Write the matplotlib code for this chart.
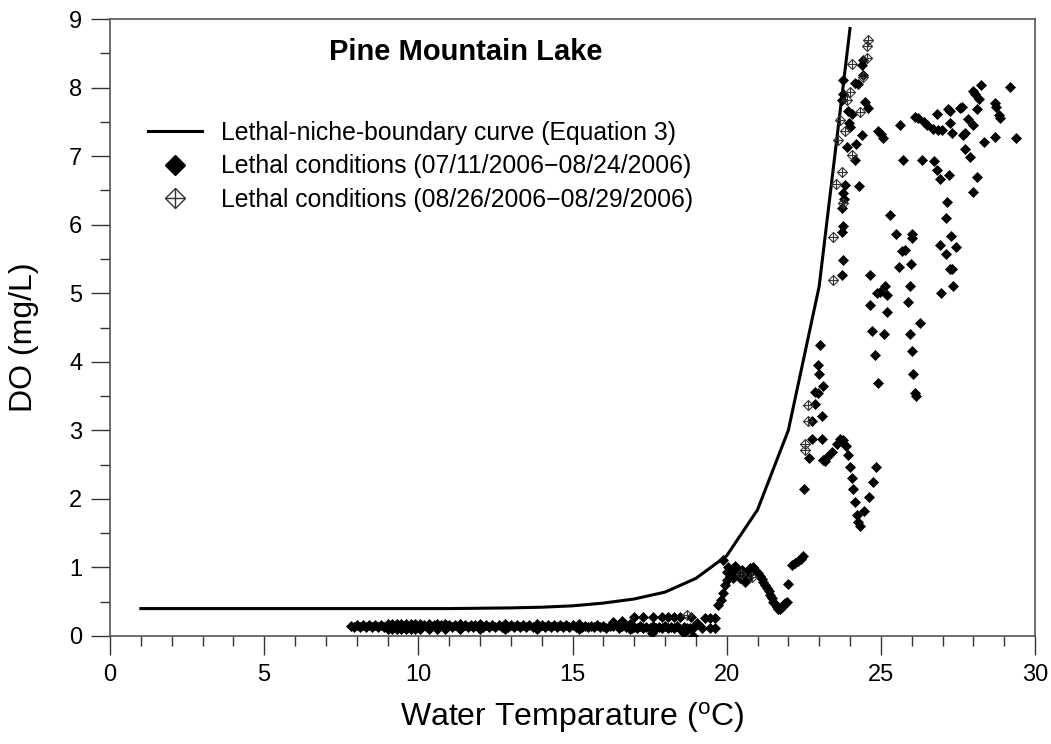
import matplotlib
matplotlib.use('Agg')
import matplotlib.pyplot as plt
from matplotlib.lines import Line2D
from matplotlib.legend_handler import HandlerTuple
from matplotlib.ticker import MultipleLocator

plt.rcParams['font.family'] = ['Liberation Sans', 'DejaVu Sans']
plt.rcParams['mathtext.fontset'] = 'custom'
plt.rcParams['mathtext.rm'] = 'Liberation Sans'

# Lethal-niche-boundary curve (Equation 3), read at whole degrees
curve_t = [1, 2, 3, 4, 5, 6, 7, 8, 9, 10, 11, 12, 13, 14, 15, 16, 17, 18, 19, 20, 21, 22, 23, 24]
curve_do = [0.40, 0.40, 0.40, 0.40, 0.40, 0.40, 0.40, 0.40, 0.40, 0.40, 0.40, 0.405,
            0.41, 0.42, 0.44, 0.48, 0.54, 0.64, 0.84, 1.17, 1.84, 3.00, 5.10, 8.86]

# Lethal conditions 07/11/2006-08/24/2006 : low band (upper edge)
band_t = [7.8, 8.0, 8.2, 8.4, 8.6, 8.8,
          9.0, 9.15, 9.3, 9.45, 9.6, 9.75, 9.9,
          10.05, 10.2, 10.35, 10.5, 10.6, 10.75, 10.85, 11.0, 11.2, 11.35,
          11.5, 11.7, 11.85, 12.0, 12.2, 12.4, 12.6, 12.8, 13.0, 13.2,
          13.4, 13.6, 13.85, 14.0, 14.2, 14.4, 14.6, 14.8, 15.0, 15.2,
          15.4, 15.6, 15.8, 16.0, 16.2, 16.4, 16.6, 16.85, 17.0, 17.2,
          17.4, 17.6, 17.8, 18.0, 18.2, 18.4, 18.6, 18.8, 19.2, 19.45, 19.62]
band_do = [0.14, 0.155, 0.155, 0.155, 0.155, 0.155,
           0.175, 0.175, 0.175, 0.175, 0.175, 0.175, 0.175,
           0.175, 0.155, 0.175, 0.155, 0.175, 0.155, 0.175, 0.155, 0.155, 0.175,
           0.155, 0.155, 0.155, 0.175, 0.155, 0.155, 0.155, 0.175, 0.155, 0.155,
           0.155, 0.155, 0.175, 0.155, 0.155, 0.155, 0.155, 0.155, 0.155, 0.175,
           0.15, 0.14, 0.16, 0.15, 0.14, 0.16, 0.15, 0.17, 0.13, 0.14,
           0.13, 0.14, 0.13, 0.14, 0.13, 0.14, 0.13, 0.12, 0.12, 0.12, 0.12]

# low band bulges and second row above 17 C
band2_t = [9.0, 9.15, 9.3, 9.45, 9.6, 9.75, 9.9, 10.05, 10.35, 10.6,
           10.85, 11.35, 12.0, 12.8, 13.85, 15.2, 16.85,
           17.0, 17.3, 17.6, 17.9, 18.1, 18.3, 18.5, 18.85,
           19.03, 19.3, 19.45, 19.62, 18.92, 18.6, 17.57, 16.3, 16.6]
band2_do = [0.105, 0.105, 0.105, 0.105, 0.105, 0.105, 0.105, 0.105, 0.105, 0.105,
            0.105, 0.105, 0.105, 0.105, 0.105, 0.105, 0.105,
            0.27, 0.28, 0.27, 0.28, 0.27, 0.28, 0.27, 0.28,
            0.19, 0.26, 0.26, 0.26, 0.0, 0.04, 0.04, 0.20, 0.22]

# low band (lower edge)
band3_t = [7.9, 8.1, 8.3, 8.5, 8.7, 8.9, 9.08, 9.22, 9.38, 9.52,
           9.68, 9.82, 9.98, 10.12, 10.28, 10.42, 10.68, 10.92, 11.1, 11.28,
           11.42, 11.6, 11.78, 11.92, 12.1, 12.3, 12.5, 12.7, 12.9, 13.1,
           13.3, 13.5, 13.72, 13.92, 14.1, 14.3, 14.5, 14.7, 14.9, 15.1,
           15.3, 15.5, 15.7, 15.9, 16.1, 16.3, 16.5, 16.72, 16.92, 17.1,
           17.3, 17.5, 17.7, 17.9, 18.1, 18.3, 18.5, 18.7, 18.9]
band3_do = [0.125, 0.125, 0.125, 0.125, 0.125, 0.125, 0.135, 0.135, 0.135, 0.135,
            0.135, 0.135, 0.135, 0.125, 0.125, 0.125, 0.125, 0.125, 0.125, 0.125,
            0.125, 0.125, 0.125, 0.125, 0.125, 0.125, 0.125, 0.125, 0.125, 0.125,
            0.125, 0.125, 0.125, 0.125, 0.125, 0.125, 0.125, 0.125, 0.125, 0.125,
            0.125, 0.125, 0.125, 0.125, 0.12, 0.14, 0.12, 0.13, 0.12, 0.11,
            0.12, 0.11, 0.12, 0.11, 0.12, 0.11, 0.10, 0.11, 0.11]

# bump around 20-22.5 C
bump_t = [19.73, 19.80, 19.89, 19.95, 20.0, 19.87, 20.0, 20.05, 20.1, 20.16,
          20.27, 20.33, 20.43, 20.5, 20.6, 20.65, 20.76, 20.87, 20.95, 21.03,
          21.08, 21.15, 21.19, 21.25, 21.3, 21.36, 21.41, 21.46, 21.51, 21.57,
          21.62, 21.68, 21.73, 21.79, 21.84, 21.9, 21.95, 22.0, 22.11, 22.2,
          22.3, 22.4, 22.48, 20.2, 20.38, 20.55, 20.7, 20.8]
bump_do = [0.45, 0.52, 0.62, 0.75, 0.82, 1.11, 0.94, 1.0, 0.88, 0.97,
           1.02, 0.92, 0.84, 0.97, 0.79, 0.94, 0.99, 1.0, 0.95, 0.92,
           0.88, 0.83, 0.79, 0.74, 0.70, 0.65, 0.60, 0.55, 0.50, 0.46,
           0.43, 0.40, 0.39, 0.42, 0.45, 0.48, 0.50, 0.76, 1.04, 1.07,
           1.10, 1.13, 1.16, 0.85, 0.95, 0.90, 0.85, 0.93]

# middle points (DO 1.5 - 4.6)
mid_t = [22.52, 22.68, 22.76, 22.76, 22.87, 22.87, 22.95, 22.97, 23.01, 23.03,
         23.08, 23.08, 23.11, 23.14, 23.2, 23.27, 23.41, 23.57, 23.68, 23.78,
         23.87, 23.95, 24.0, 24.05, 24.11, 24.16, 24.22, 24.27, 24.31, 24.47,
         24.63, 24.76, 24.84, 24.81, 24.92, 25.95, 26.0, 26.05, 26.1, 26.13,
         26.27, 25.1, 24.70]
mid_do = [2.14, 2.60, 2.88, 3.14, 3.38, 3.56, 3.54, 3.95, 3.82, 4.24,
          3.21, 2.87, 3.64, 2.57, 2.55, 2.61, 2.69, 2.80, 2.88, 2.86,
          2.77, 2.64, 2.46, 2.31, 2.14, 1.96, 1.76, 1.66, 1.60, 1.82,
          2.03, 2.25, 2.46, 4.10, 3.69, 4.41, 4.15, 3.82, 3.54, 3.50,
          4.56, 4.40, 4.45]

# upper points (DO above 4.6)
high_t = [24.65, 25.21, 25.89, 24.89, 25.14, 25.21, 24.97, 24.65, 25.60, 25.99,
          25.93, 26.95, 27.33, 27.24, 27.30, 27.11, 26.92, 27.44, 27.26, 25.78,
          25.70, 26.00, 26.00, 25.49, 25.30, 27.11, 27.13, 28.00, 28.11, 27.22,
          26.92, 26.81, 26.74, 26.33, 25.71, 27.90, 27.73, 28.35, 28.70, 29.38,
          27.72, 27.68, 27.84, 28.00, 27.30, 27.24, 26.97, 26.85, 26.70, 26.49,
          26.40, 26.19, 26.11, 26.81, 27.19, 27.24, 27.57, 27.62, 28.11, 28.18,
          28.00, 28.05, 28.26, 29.19, 28.70, 28.75, 28.87, 28.82, 25.62, 25.08,
          25.00, 24.92,
          24.43, 24.38, 23.78, 24.16, 24.25, 24.43, 23.73, 23.78, 24.49, 24.59,
          23.95, 24.05, 23.97, 24.00, 24.38, 23.89, 24.19, 24.16, 23.84, 24.30,
          23.78, 23.80, 23.76, 23.73, 23.76, 23.73, 23.75]
high_do = [4.83, 4.73, 4.87, 5.01, 5.10, 4.97, 5.02, 5.27, 5.38, 5.43,
           5.10, 5.00, 5.10, 5.35, 5.35, 5.57, 5.70, 5.68, 5.83, 5.63,
           5.62, 5.80, 5.86, 5.87, 6.14, 6.09, 6.33, 6.48, 6.69, 6.73,
           6.67, 6.80, 6.93, 6.95, 6.95, 6.99, 7.10, 7.21, 7.28, 7.27,
           7.34, 7.31, 7.54, 7.45, 7.33, 7.48, 7.38, 7.38, 7.40, 7.45,
           7.50, 7.55, 7.57, 7.61, 7.68, 7.66, 7.70, 7.72, 7.68, 7.83,
           7.95, 7.90, 8.04, 8.01, 7.77, 7.72, 7.55, 7.60, 7.45, 7.26,
           7.32, 7.36,
           8.40, 8.33, 8.11, 8.07, 8.05, 8.18, 7.82, 7.90, 7.79, 7.70,
           7.66, 7.62, 7.48, 7.42, 7.31, 7.14, 7.18, 6.94, 6.58, 6.56,
           6.46, 6.38, 5.98, 5.90, 5.49, 5.27, 6.24]

# Lethal conditions 08/26/2006-08/29/2006
open_t = [24.59, 24.54, 24.54, 24.05, 24.43, 24.00, 23.89, 24.32, 23.68, 23.84,
          23.62, 24.05, 23.73, 23.55, 23.78, 23.46, 23.46, 22.65, 22.65, 22.54,
          22.54, 20.81, 20.45, 18.70]
open_do = [8.70, 8.60, 8.43, 8.35, 8.16, 7.94, 7.82, 7.65, 7.53, 7.36,
           7.24, 7.02, 6.77, 6.59, 6.31, 5.82, 5.19, 3.37, 3.14, 2.80,
           2.72, 0.86, 0.90, 0.30]

filled_t = band_t + band2_t + band3_t + bump_t + mid_t + high_t
filled_do = band_do + band2_do + band3_do + bump_do + mid_do + high_do

fig = plt.figure(figsize=(10.51, 7.44), dpi=100)
ax = fig.add_axes([110/1051, 108/744, 925/1051, 617/744])

ax.plot(curve_t, curve_do, color='black', lw=2.2, zorder=3)
ax.plot(filled_t, filled_do, ls='none', marker='D', ms=4.8, mfc='black', mec='black', mew=0.5, zorder=4)
ax.plot(open_t, open_do, ls='none', marker='D', ms=5.5, mfc='none', mec='#333333', mew=0.8, zorder=5)
ax.plot(open_t, open_do, ls='none', marker='+', ms=7.7, mec='#333333', mew=0.8, zorder=5)

ax.set_xlim(0, 30)
ax.set_ylim(0, 9)
ax.xaxis.set_major_locator(MultipleLocator(5))
ax.xaxis.set_minor_locator(MultipleLocator(1))
ax.yaxis.set_major_locator(MultipleLocator(1))
ax.yaxis.set_minor_locator(MultipleLocator(0.5))
ax.tick_params(which='major', direction='out', length=14, width=1, labelsize=17, pad=6, color='#333333')
ax.tick_params(which='minor', direction='out', length=7, width=1, color='#333333')
for s in ax.spines.values():
    s.set_color('#555555')
    s.set_linewidth(1.2)

ax.set_xlabel(r'Water Temparature ($\mathregular{^o}$C)', fontsize=23)
ax.set_ylabel('DO (mg/L)', fontsize=23)
ax.xaxis.set_label_coords(0.5, -0.104)
ax.yaxis.set_label_coords(-0.077, 0.485)

ax.text(0.385, 0.946, 'Pine Mountain Lake', transform=ax.transAxes, ha='center', va='center',
        fontsize=21, fontweight='bold')

h_line = Line2D([], [], color='black', lw=2.2)
h_fill = Line2D([], [], ls='none', marker='D', ms=10, mfc='black', mec='black')
h_open = (Line2D([], [], ls='none', marker='D', ms=10, mfc='none', mec='#333333', mew=1),
          Line2D([], [], ls='none', marker='+', ms=14, mec='#333333', mew=1))
ax.legend([h_line, h_fill, h_open],
          ['Lethal-niche-boundary curve (Equation 3)',
           'Lethal conditions (07/11/2006\u221208/24/2006)',
           'Lethal conditions (08/26/2006\u221208/29/2006)'],
          handler_map={tuple: HandlerTuple(ndivide=1)},
          loc='upper left', bbox_to_anchor=(0.041, 0.835), frameon=False,
          borderpad=0, borderaxespad=0, handlelength=2.2, handletextpad=0.75,
          labelspacing=0.38, fontsize=17.8)

fig.savefig('out.png', dpi=100)
